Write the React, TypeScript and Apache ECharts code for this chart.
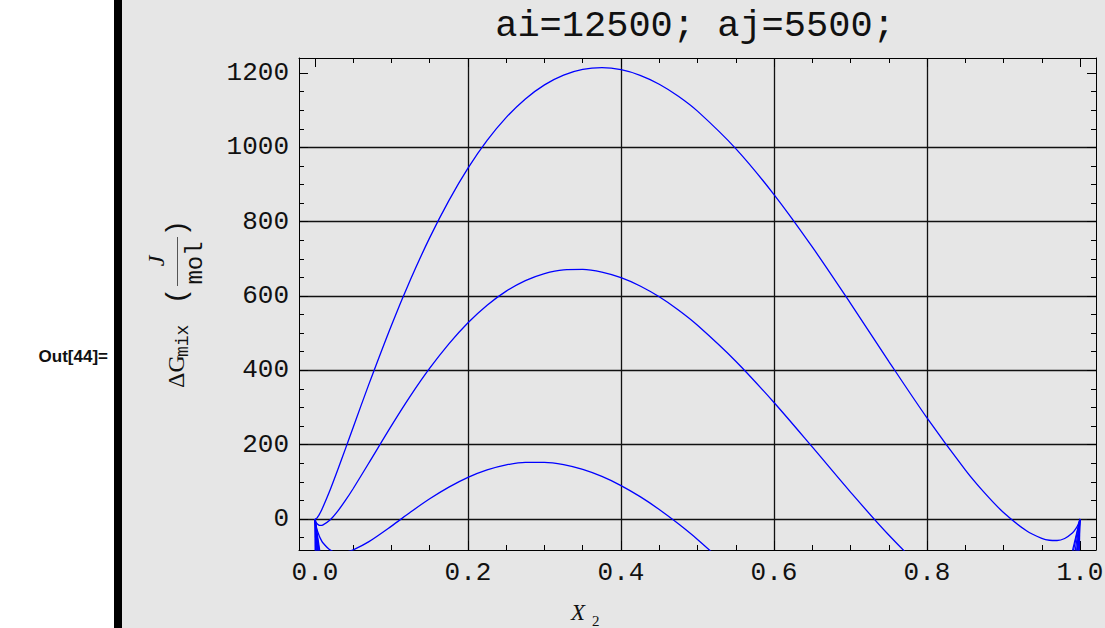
import React, { useEffect, useRef } from "react";
import * as echarts from "echarts";

// ---- texts ----
const titleText = "ai=12500; aj=5500;";
const outLabel = "Out[44]=";

// ---- axes ----
const X_MIN = -0.0209;
const X_MAX = 1.0209;
const Y_MIN = -83.5;
const Y_MAX = 1240.4;
const xMajor = [0, 0.2, 0.4, 0.6, 0.8, 1.0];
const xMinor = [0.05, 0.1, 0.15, 0.25, 0.3, 0.35, 0.45, 0.5, 0.55, 0.65, 0.7, 0.75, 0.85, 0.9, 0.95];
const xGrid = [0.2, 0.4, 0.6, 0.8];
const yMajor = [0, 200, 400, 600, 800, 1000, 1200];
const yMinor = [-50, 50, 100, 150, 250, 300, 350, 450, 500, 550, 650, 700, 750, 850, 900, 950, 1050, 1100, 1150];
const yGrid = [0, 200, 400, 600, 800, 1000];

// ---- curves ----
const xTop = [0, 0.002, 0.005, 0.007, 0.01, 0.02, 0.03, 0.04, 0.05, 0.07, 0.1, 0.125, 0.15, 0.175, 0.2, 0.225, 0.25, 0.275, 0.3, 0.325, 0.35, 0.375, 0.4, 0.425, 0.45, 0.475, 0.5, 0.55, 0.6, 0.65, 0.7, 0.75, 0.8, 0.85, 0.875, 0.9, 0.93, 0.95, 0.96, 0.97, 0.98, 0.99, 0.995, 0.998, 1];
const gTop = [0, 0.9, 9.7, 17.2, 29.9, 79.2, 133.6, 190.0, 247.0, 360.1, 521.4, 645.0, 757.0, 856.7, 944.0, 1018.5, 1080.5, 1130.3, 1168.2, 1194.5, 1209.7, 1214.3, 1208.9, 1193.8, 1169.9, 1137.5, 1097.4, 996.6, 872.9, 732.0, 580.2, 424.3, 272.0, 132.2, 70.8, 17.4, -31.8, -52.2, -57.3, -57.9, -52.5, -38.0, -24.8, -13.0, 0];

const xMid = [0, 0.002, 0.005, 0.007, 0.01, 0.02, 0.03, 0.04, 0.05, 0.07, 0.1, 0.125, 0.15, 0.175, 0.2, 0.225, 0.25, 0.275, 0.3, 0.325, 0.35, 0.375, 0.4, 0.425, 0.45, 0.475, 0.5, 0.55, 0.6, 0.65, 0.7, 0.75, 0.8, 0.85];
const gMid = [0, -11.1, -16.5, -17.5, -16.6, -2.3, 21.6, 50.4, 82.0, 149.2, 251.1, 331.8, 405.6, 471.2, 528.0, 575.2, 613.0, 641.4, 660.3, 670.3, 671.5, 664.4, 649.4, 627.0, 597.8, 562.3, 521.2, 424.6, 313.4, 193.8, 72.3, -43.2, -144.0, -219.2];

const xLow = [0, 0.002, 0.005, 0.007, 0.01, 0.02, 0.03, 0.04, 0.05, 0.07, 0.1, 0.125, 0.15, 0.175, 0.2, 0.225, 0.25, 0.275, 0.3, 0.325, 0.35, 0.375, 0.4, 0.425, 0.45, 0.475, 0.5, 0.55];
const gLow = [0, -23.1, -42.7, -52.2, -63.2, -83.8, -90.5, -89.3, -83.0, -61.7, -19.2, 18.6, 54.2, 85.7, 112.0, 132.0, 145.5, 152.4, 152.4, 146.1, 133.2, 114.4, 89.9, 60.1, 25.7, -13.0, -55.1, -147.5];

// edge spikes at x = 0 and x = 1 (drop below the frame)
const spikeDepth = -95;
const leftSpikeEnds = [0.0002, 0.001, 0.002, 0.003, 0.004, 0.005, 0.006, 0.007];
const rightSpikeEnds = [0.989, 0.9905, 0.993, 0.995, 0.996, 0.997, 0.998, 0.999];

const BLUE = "#0000ff";
const MONO = "Liberation Mono";
const SERIF = "Liberation Serif";
const INK = "#111";

function baseAxis(extra: any) {
  return {
    type: "value",
    gridIndex: 0,
    axisLine: { show: false, onZero: false, lineStyle: { color: "#000", width: 1 } },
    axisTick: { show: false },
    axisLabel: { show: false },
    splitLine: { show: false },
    minorTick: { show: false },
    minorSplitLine: { show: false },
    ...extra,
  };
}

function xAx(extra: any) {
  return baseAxis({ min: X_MIN, max: X_MAX, ...extra });
}
function yAx(extra: any) {
  return baseAxis({ min: Y_MIN, max: Y_MAX, ...extra });
}

const tickStyle = { color: "#000", width: 1 };

function txt(x: number, y: number, text: string, extra: any) {
  const align = extra.align || "left";
  const va = extra.verticalAlign || "middle";
  return {
    type: "text",
    x,
    y,
    style: {
      text,
      fill: INK,
      align,
      textAlign: align,
      verticalAlign: va,
      textVerticalAlign: va,
      ...extra,
    },
  };
}

export default function App() {
  const ref = useRef<HTMLDivElement>(null);

  useEffect(() => {
    if (!ref.current) return;
    const chart = echarts.init(ref.current, null, { renderer: "svg" });

    const pair = (xs: number[], ys: number[]) => xs.map((x, i) => [x, ys[i]]);
    const curve = (data: number[][]) => ({
      type: "line",
      xAxisIndex: 0,
      yAxisIndex: 0,
      data,
      showSymbol: false,
      symbol: "none",
      smooth: 0.3,
      clip: true,
      z: 3,
      lineStyle: { color: BLUE, width: 1.3 },
    });
    const spike = (x0: number, x1: number) => ({
      type: "line",
      xAxisIndex: 0,
      yAxisIndex: 0,
      data: [
        [x0, 0],
        [x1, spikeDepth],
      ],
      showSymbol: false,
      symbol: "none",
      clip: true,
      z: 3,
      lineStyle: { color: BLUE, width: 1.2 },
    });

    const option: any = {
      animation: false,
      backgroundColor: "transparent",
      grid: { left: 299, right: 9, top: 58, bottom: 78, containLabel: false, outerBoundsMode: "none" },
      xAxis: [
        xAx({
          position: "bottom",
          axisLine: { show: true, onZero: false, lineStyle: tickStyle },
          axisTick: { show: true, inside: true, length: 9, customValues: xMajor, lineStyle: tickStyle },
          axisLabel: {
            show: true,
            customValues: xMajor,
            formatter: (v: number) => v.toFixed(1),
            fontFamily: MONO,
            fontSize: 26,
            color: INK,
            margin: 10,
          },
        }),
        xAx({
          position: "bottom",
          axisTick: { show: true, inside: true, length: 5, customValues: xMinor, lineStyle: tickStyle },
        }),
        xAx({
          position: "top",
          axisLine: { show: true, onZero: false, lineStyle: tickStyle },
          axisTick: { show: true, inside: true, length: 9, customValues: xMajor, lineStyle: tickStyle },
        }),
        xAx({
          position: "top",
          axisTick: { show: true, inside: true, length: 5, customValues: xMinor, lineStyle: tickStyle },
        }),
        xAx({
          position: "bottom",
          axisTick: { show: false, customValues: xGrid },
          splitLine: { show: true, lineStyle: { color: "#111", width: 1.3 } },
        }),
      ],
      yAxis: [
        yAx({
          position: "left",
          axisLine: { show: true, onZero: false, lineStyle: tickStyle },
          axisTick: { show: true, inside: true, length: 9, customValues: yMajor, lineStyle: tickStyle },
          axisLabel: {
            show: true,
            customValues: yMajor,
            formatter: (v: number) => String(Math.round(v)),
            fontFamily: MONO,
            fontSize: 26,
            color: INK,
            margin: 10,
          },
        }),
        yAx({
          position: "left",
          axisTick: { show: true, inside: true, length: 5, customValues: yMinor, lineStyle: tickStyle },
        }),
        yAx({
          position: "right",
          axisLine: { show: true, onZero: false, lineStyle: tickStyle },
          axisTick: { show: true, inside: true, length: 9, customValues: yMajor, lineStyle: tickStyle },
        }),
        yAx({
          position: "right",
          axisTick: { show: true, inside: true, length: 5, customValues: yMinor, lineStyle: tickStyle },
        }),
        yAx({
          position: "left",
          axisTick: { show: false, customValues: yGrid },
          splitLine: { show: true, lineStyle: { color: "#111", width: 1.3 } },
        }),
      ],
      series: [
        curve(pair(xTop, gTop)),
        curve(pair(xMid, gMid)),
        curve(pair(xLow, gLow)),
        ...leftSpikeEnds.map((e) => spike(0, e)),
        ...rightSpikeEnds.map((e) => spike(1, e)),
      ],
      graphic: [
        txt(695, 26, titleText, { align: "center", fontFamily: MONO, fontSize: 37 }),
        txt(108, 356, outLabel, {
          align: "right",
          fontFamily: "Liberation Sans",
          fontWeight: "bold",
          fontSize: 17,
        }),
        // x axis title  X_2
        txt(571, 612, "X", { fontFamily: SERIF, fontStyle: "italic", fontSize: 23 }),
        txt(592, 621, "2", { fontFamily: SERIF, fontSize: 15 }),
        // y axis title  ΔG_mix ( J / mol ), rotated
        {
          type: "group",
          x: 176,
          y: 388,
          rotation: Math.PI / 2,
          children: [
            txt(0, 0, "ΔG", { fontFamily: SERIF, fontSize: 24 }),
            txt(31, 7, "mix", { fontFamily: MONO, fontSize: 18 }),
            txt(92, 1, "(", { align: "center", fontFamily: MONO, fontSize: 28 }),
            txt(127, -20, "J", { align: "center", fontFamily: SERIF, fontStyle: "italic", fontSize: 24 }),
            {
              type: "line",
              shape: { x1: 102, y1: 1.5, x2: 151, y2: 1.5 },
              style: { stroke: "#555", lineWidth: 1 },
            },
            txt(125, 19, "mol", { align: "center", fontFamily: MONO, fontSize: 24 }),
            txt(160, 1, ")", { align: "center", fontFamily: MONO, fontSize: 28 }),
          ],
        },
      ],
    };

    chart.setOption(option);
    return () => chart.dispose();
  }, []);

  return (
    <div
      ref={ref}
      style={{
        position: "absolute",
        left: 0,
        top: 0,
        width: 1105,
        height: 628,
        background:
          "linear-gradient(to right, #ffffff 0px, #ffffff 114px, #000000 114px, #000000 122px, #e6e6e6 122px, #e6e6e6 100%)",
      }}
    />
  );
}
